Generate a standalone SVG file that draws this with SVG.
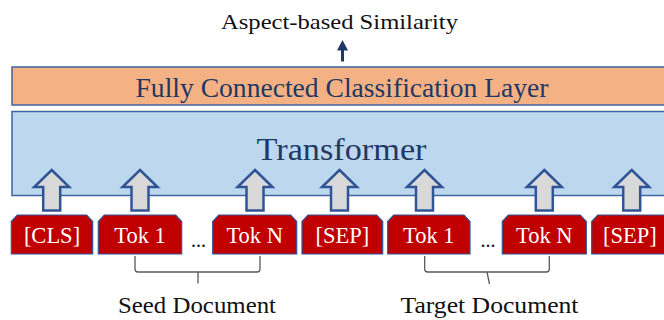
<svg xmlns="http://www.w3.org/2000/svg" xmlns:xlink="http://www.w3.org/1999/xlink" width="664" height="320" viewBox="0 0 664 320">
  <style>
    .serif { font-family: "Liberation Serif", "DejaVu Serif", serif; }
    .layer-fc { fill: #F4B183; stroke: #3F64A0; stroke-width: 1.5; }
    .layer-tf { fill: #BDD7EE; stroke: #3F64A0; stroke-width: 1.5; }
    .layer-text { fill: #203864; text-anchor: middle; }
    .tok { fill: #C00000; stroke: #2F5597; stroke-width: 1.2; }
    .tok-text { fill: #FFFFFF; font-size: 22.5px; text-anchor: middle; }
    .feed { fill: #D9D9D9; stroke: #2F5597; stroke-width: 2.5; stroke-linejoin: miter; }
    .brace { fill: none; stroke: #595959; stroke-width: 1.3; }
    .label { fill: #111111; text-anchor: middle; }
  </style>
  <defs>
    <!-- block arrow feeding a token into the transformer, centred on x=0 -->
    <path id="feed-arrow" d="M0,170 L17.5,187 L8.5,187 L8.5,210.5 L-8.5,210.5 L-8.5,187 L-17.5,187 Z"/>
  </defs>

  <rect width="664" height="320" fill="#FFFFFF"/>

  <!-- output label -->
  <g id="output">
    <text class="serif label" x="339.5" y="28.5" font-size="21.5" textLength="237" lengthAdjust="spacingAndGlyphs">Aspect-based Similarity</text>
  </g>

  <!-- classification layer -->
  <g id="fc-layer">
    <rect class="layer-fc" x="12" y="67" width="700" height="38"/>
    <text class="serif layer-text" x="342" y="96.5" font-size="27" textLength="413" lengthAdjust="spacingAndGlyphs">Fully Connected Classification Layer</text>
  </g>

  <!-- transformer block -->
  <g id="transformer">
    <rect class="layer-tf" x="12" y="111.5" width="700" height="84"/>
    <text class="serif layer-text" x="341.5" y="160" font-size="32.5" textLength="170" lengthAdjust="spacingAndGlyphs">Transformer</text>
  </g>

  <!-- connectors -->
  <g id="connectors">
    <path d="M342.5,40 L348,50.5 L344,50.5 L344,61.5 L341,61.5 L341,50.5 L337,50.5 Z" fill="#1F3864"/>
    <use xlink:href="#feed-arrow" href="#feed-arrow" class="feed" x="51.7"/>
    <use xlink:href="#feed-arrow" href="#feed-arrow" class="feed" x="140"/>
    <use xlink:href="#feed-arrow" href="#feed-arrow" class="feed" x="255"/>
    <use xlink:href="#feed-arrow" href="#feed-arrow" class="feed" x="339.5"/>
    <use xlink:href="#feed-arrow" href="#feed-arrow" class="feed" x="424.5"/>
    <use xlink:href="#feed-arrow" href="#feed-arrow" class="feed" x="544.3"/>
    <use xlink:href="#feed-arrow" href="#feed-arrow" class="feed" x="631.7"/>
    <!-- document braces -->
    <path class="brace" d="M135,256 L135,269 Q135,272 138,272 L257,272 Q260,272 260,269 L260,256 M198,272 L198,283.5"/>
    <path class="brace" d="M424.7,256 L424.7,269 Q424.7,272 427.7,272 L546.3,272 Q549.3,272 549.3,269 L549.3,256 M487,272 L489.5,284"/>
  </g>

  <!-- input tokens -->
  <g id="tok-cls">
    <path class="tok" d="M11.3,254 L11.3,221.5 L17.3,215 L86.7,215 L92.7,221.5 L92.7,254 Z"/>
    <text class="serif tok-text" x="52" y="243">[CLS]</text>
  </g>
  <g id="tok-seed-1">
    <path class="tok" d="M98.3,254 L98.3,221.5 L104.3,215 L175.7,215 L181.7,221.5 L181.7,254 Z"/>
    <text class="serif tok-text" x="140" y="243">Tok 1</text>
  </g>
  <g id="seed-ellipsis">
    <text class="serif" x="198.5" y="247" font-size="20" fill="#111111" text-anchor="middle">...</text>
  </g>
  <g id="tok-seed-n">
    <path class="tok" d="M212.7,254 L212.7,221.5 L218.7,215 L290.7,215 L296.7,221.5 L296.7,254 Z"/>
    <text class="serif tok-text" x="254.7" y="243">Tok N</text>
  </g>
  <g id="tok-sep-1">
    <path class="tok" d="M302,254 L302,221.5 L308,215 L376.7,215 L382.7,221.5 L382.7,254 Z"/>
    <text class="serif tok-text" x="342.3" y="243">[SEP]</text>
  </g>
  <g id="tok-target-1">
    <path class="tok" d="M387.7,254 L387.7,221.5 L393.7,215 L464,215 L470,221.5 L470,254 Z"/>
    <text class="serif tok-text" x="428.8" y="243">Tok 1</text>
  </g>
  <g id="target-ellipsis">
    <text class="serif" x="488" y="247" font-size="20" fill="#111111" text-anchor="middle">...</text>
  </g>
  <g id="tok-target-n">
    <path class="tok" d="M502.3,254 L502.3,221.5 L508.3,215 L580.3,215 L586.3,221.5 L586.3,254 Z"/>
    <text class="serif tok-text" x="544.3" y="243">Tok N</text>
  </g>
  <g id="tok-sep-2">
    <path class="tok" d="M591.7,254 L591.7,221.5 L597.7,215 L666,215 L672,221.5 L672,254 Z"/>
    <text class="serif tok-text" x="630" y="243">[SEP]</text>
  </g>

  <!-- document labels -->
  <g id="seed-label">
    <text class="serif label" x="197" y="312.7" font-size="24" textLength="158" lengthAdjust="spacingAndGlyphs">Seed Document</text>
  </g>
  <g id="target-label">
    <text class="serif label" x="489.5" y="312.7" font-size="24" textLength="178" lengthAdjust="spacingAndGlyphs">Target Document</text>
  </g>
</svg>
